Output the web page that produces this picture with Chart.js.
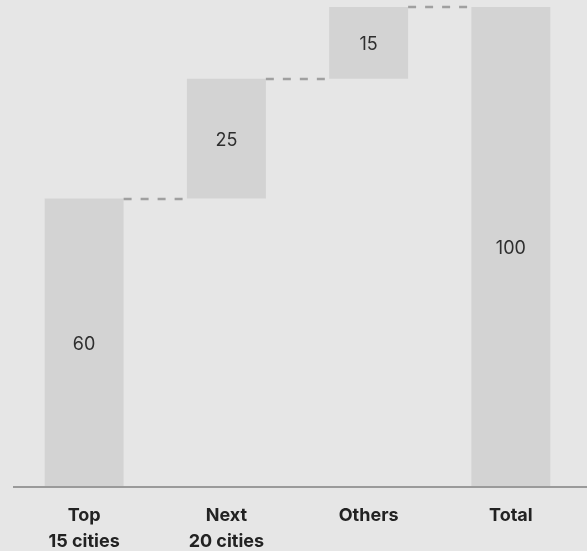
<!DOCTYPE html>
<html>
<head>
<meta charset="utf-8">
<script src="https://cdn.jsdelivr.net/npm/chart.js@4.4.1/dist/chart.umd.min.js"></script>
<style>
  html, body { margin: 0; padding: 0; background: #e6e6e6; }
  #wrap { width: 587px; height: 551px; }
</style>
</head>
<body>
<div id="wrap"><canvas id="c"></canvas></div>
<script>
// Waterfall of shares: each step starts where the previous one ended
const categories = [["Top", "15 cities"], ["Next", "20 cities"], ["Others"], ["Total"]];
const steps = [60, 25, 15];
const total = 100;

// Build floating [start, end] ranges for the bars
const ranges = [];
let running = 0;
steps.forEach(v => { ranges.push([running, running + v]); running += v; });
ranges.push([0, total]);
const labels = steps.concat([total]);

const waterfallExtras = {
  id: 'waterfallExtras',
  afterDatasetsDraw(chart) {
    const ctx = chart.ctx;
    const meta = chart.getDatasetMeta(0);
    const y = chart.scales.y;
    const area = chart.chartArea;
    ctx.save();

    // dashed connectors between consecutive steps
    ctx.strokeStyle = '#a0a0a0';
    ctx.lineWidth = 2.6;
    ctx.setLineDash([8, 9]);
    for (let i = 0; i < meta.data.length - 1; i++) {
      const a = meta.data[i], b = meta.data[i + 1];
      const yy = Math.round(y.getPixelForValue(ranges[i][1]));
      ctx.beginPath();
      ctx.moveTo(a.x + a.width / 2, yy);
      ctx.lineTo(b.x - b.width / 2 - 3, yy);
      ctx.stroke();
    }

    // baseline
    ctx.setLineDash([]);
    ctx.strokeStyle = '#9a9a9a';
    ctx.lineWidth = 2;
    ctx.beginPath();
    ctx.moveTo(area.left, area.bottom + 1);
    ctx.lineTo(chart.width, area.bottom + 1);
    ctx.stroke();

    // value labels at bar centres
    ctx.fillStyle = '#2e2e2e';
    ctx.font = '18px Inter, "Liberation Sans", sans-serif';
    ctx.textAlign = 'center';
    ctx.textBaseline = 'middle';
    meta.data.forEach((bar, i) => {
      const mid = y.getPixelForValue((ranges[i][0] + ranges[i][1]) / 2);
      ctx.fillText(String(labels[i]), bar.x, mid + 2);
    });
    ctx.restore();
  }
};

new Chart(document.getElementById('c'), {
  type: 'bar',
  data: {
    labels: categories,
    datasets: [{
      data: ranges,
      backgroundColor: '#d3d3d3',
      borderWidth: 0,
      barPercentage: 0.555,
      categoryPercentage: 1.0
    }]
  },
  options: {
    responsive: true,
    maintainAspectRatio: false,
    animation: false,
    layout: { padding: { top: 7, left: 13, right: 5, bottom: 0 } },
    plugins: { legend: { display: false }, tooltip: { enabled: false } },
    scales: {
      x: {
        grid: { display: false, drawTicks: false },
        border: { display: false },
        afterFit(scale) { scale.height = 65; },
        ticks: {
          color: '#222222',
          padding: 17,
          font: { family: 'Inter, "Liberation Sans", sans-serif', size: 18, weight: 'bold', lineHeight: 1.44 }
        }
      },
      y: {
        display: false,
        min: 0,
        max: 100
      }
    }
  },
  plugins: [waterfallExtras]
});
</script>
</body>
</html>
